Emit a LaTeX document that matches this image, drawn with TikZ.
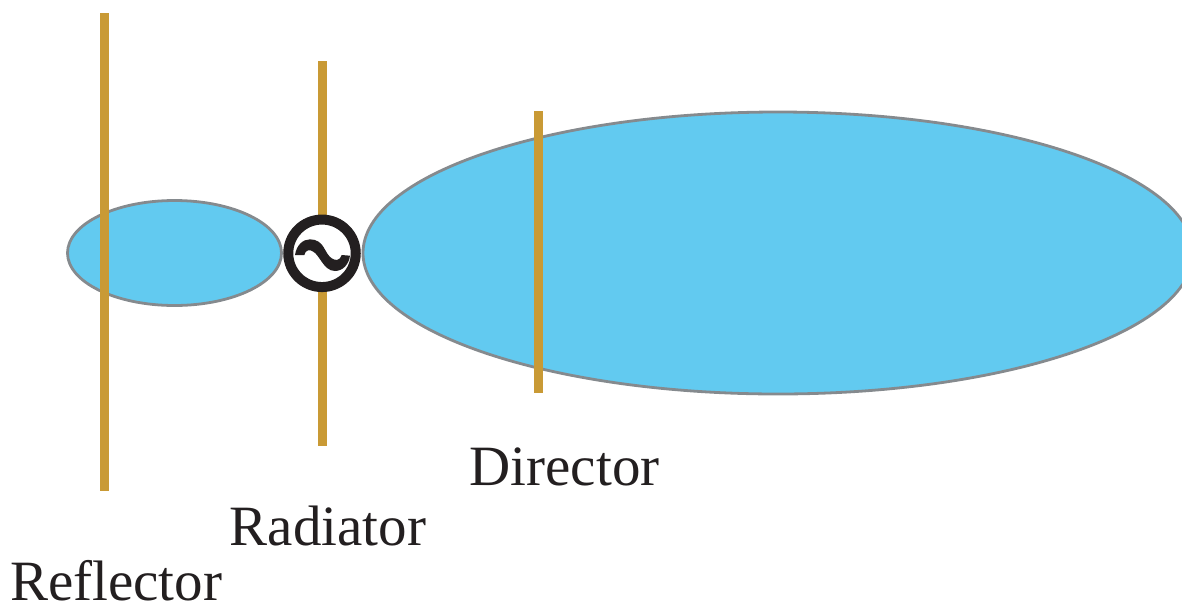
\documentclass[tikz,border=0pt]{standalone}
\usepackage{fontspec}
\setmainfont{Liberation Serif}
\usetikzlibrary{shapes.geometric}
\definecolor{lobe}{HTML}{62CAF0}
\definecolor{rod}{HTML}{C99A35}
\definecolor{edge}{HTML}{858A8E}
\definecolor{ink}{HTML}{231F20}
\tikzset{x=1pt,y=-1pt,
lobeshape/.style={ellipse,draw=edge,fill=lobe,line width=2.8pt,inner sep=0pt},
rodline/.style={draw=rod,line width=9pt},
lab/.style={text=ink,font=\fontsize{57}{57}\selectfont,inner sep=0pt,anchor=base west}}
\begin{document}
\begin{tikzpicture}
\useasboundingbox (0,0) rectangle (1182,603);
\node[lobeshape,minimum width=214pt,minimum height=105pt] (small) at (174.5,253) {};
\node[lobeshape,minimum width=830pt,minimum height=282pt] (big) at (778,253) {};
\coordinate (reft) at (104.7,13); \coordinate (refb) at (104.7,491);
\coordinate (radt) at (322,61); \coordinate (radb) at (322,446);
\coordinate (dirt) at (538.7,111); \coordinate (dirb) at (538.7,393);
\draw[rodline] (reft) -- (refb);
\draw[rodline] (radt) -- (radb);
\draw[rodline] (dirt) -- (dirb);
\node[circle,draw=ink,fill=white,line width=10pt,minimum size=67.5pt,inner sep=0pt] (src) at (322,253.3) {};
\fill[ink] (295,255) .. controls (296.5,245) and (303,239.3) .. (310,239.3)
  .. controls (317,239.3) and (321,243) .. (323.3,246.7)
  .. controls (326,251) and (328,256) .. (331.7,258.3)
  .. controls (335,260.8) and (340,261) .. (341.7,255)
  -- (350,255.7)
  .. controls (349,264) and (343,271) .. (335,271)
  .. controls (329,271) and (325,266.5) .. (321.7,261.7)
  .. controls (319,258) and (316.5,253.5) .. (313.3,251.7)
  .. controls (310,249.3) and (305.5,249.5) .. (304.3,255)
  -- cycle;
\node[lab] (director) at (469.5,485.3) {Director};
\node[lab] (radiator) at (229.5,545.5) {Radiator};
\node[lab] (reflector) at (10,600.5) {Reflector};
\end{tikzpicture}
\end{document}
